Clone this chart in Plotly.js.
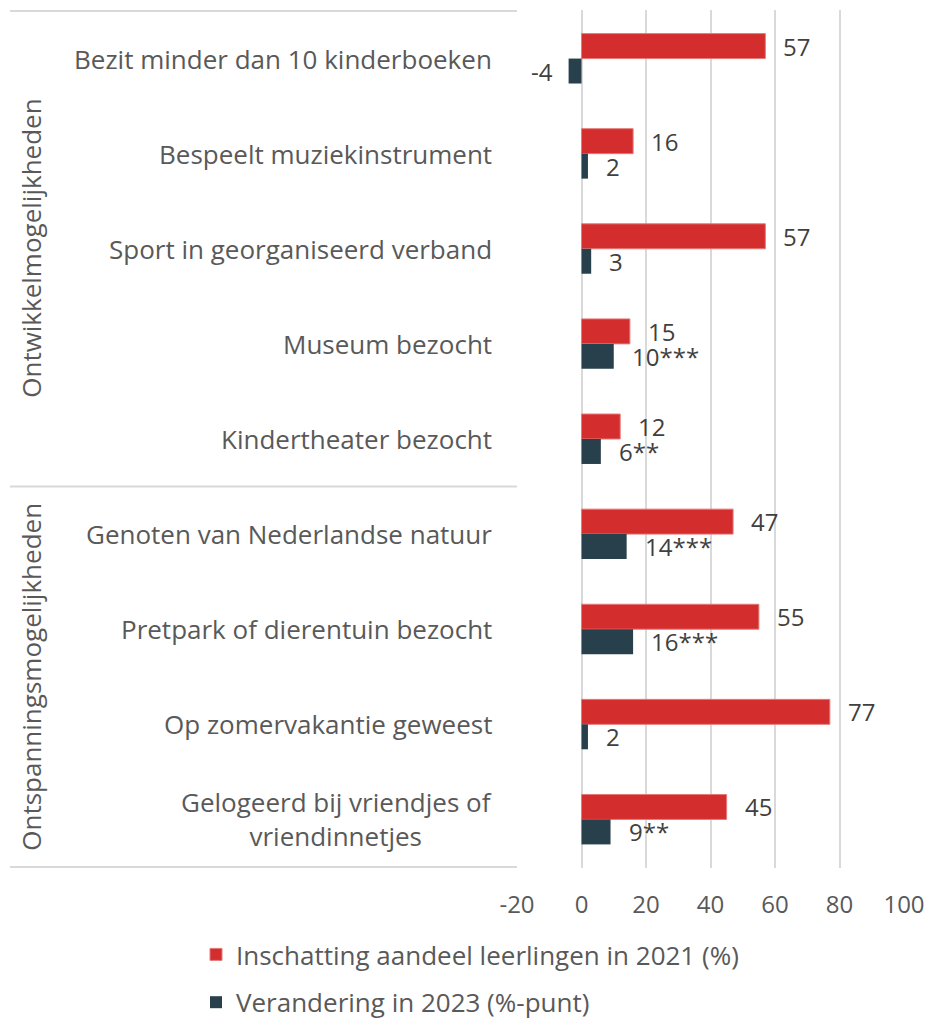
<!DOCTYPE html>
<html>
<head>
<meta charset="utf-8">
<script src="https://cdn.plot.ly/plotly-3.0.1.min.js"></script>
<style>html,body{margin:0;padding:0;background:#fff;}#chart{width:931px;height:1020px;}</style>
</head>
<body>
<div id="chart"></div>
<script>
const categories = [
  "Bezit minder dan 10 kinderboeken",
  "Bespeelt muziekinstrument",
  "Sport in georganiseerd verband",
  "Museum bezocht",
  "Kindertheater bezocht",
  "Genoten van Nederlandse natuur",
  "Pretpark of dierentuin bezocht",
  "Op zomervakantie geweest",
  "Gelogeerd bij vriendjes of<br>vriendinnetjes"
];
const groupNames = ["Ontwikkelmogelijkheden", "Ontspanningsmogelijkheden"];
const groupSizes = [5, 4];
const share2021 = [57, 16, 57, 15, 12, 47, 55, 77, 45];
const change2023 = [-4, 2, 3, 10, 6, 14, 16, 2, 9];
const change2023Stars = ["", "", "", "***", "**", "***", "***", "", "**"];
const xTicks = [-20, 0, 20, 40, 60, 80, 100];
const seriesNames = ["Inschatting aandeel leerlingen in 2021 (%)", "Verandering in 2023 (%-punt)"];

const FONT = "'Open Sans', 'Noto Sans', sans-serif";
const TXT = "#595959";
const LBL = "#404040";
const RED = "#d32d2d";
const DARK = "#27404b";
const GRID = "#d9d9d9";
const BARGAP = 0.475;
const off = (1 - BARGAP) / 4;

const traces = [
  {type: "bar", orientation: "h", name: seriesNames[0], x: share2021, y: categories,
   marker: {color: RED, line: {color: "#e57a7a", width: 1}}, legendgroup: "a", hoverinfo: "x"},
  {type: "bar", orientation: "h", name: seriesNames[1], x: change2023, y: categories,
   marker: {color: DARK, line: {width: 0}}, legendgroup: "b", hoverinfo: "x"}
];

const annotations = [];
categories.forEach((c, i) => {
  annotations.push({xref: "paper", x: 0, xanchor: "right", xshift: -23, yref: "y", y: i,
    yanchor: "middle", text: c, align: "center", showarrow: false, font: {family: FONT, size: 26, color: TXT}});
  annotations.push({xref: "x", x: share2021[i], xanchor: "left", xshift: 16, yref: "y", y: i - off,
    yanchor: "middle", text: String(share2021[i]), showarrow: false, font: {family: FONT, size: 24, color: LBL}});
  const v = change2023[i];
  annotations.push({xref: "x", x: v, xanchor: v < 0 ? "right" : "left", xshift: v < 0 ? -14 : 16, yref: "y", y: i + off,
    yanchor: "middle", text: String(v) + change2023Stars[i], showarrow: false, font: {family: FONT, size: 24, color: LBL}});
});

const shapes = [];
let start = -0.5;
shapes.push({type: "line", xref: "paper", xsizemode: "pixel", xanchor: 0, x0: -507, x1: 0,
  yref: "y", y0: start, y1: start, line: {color: GRID, width: 2}});
groupNames.forEach((g, k) => {
  const end = start + groupSizes[k];
  annotations.push({xref: "paper", x: 0, xanchor: "center", xshift: -486, yref: "y", y: (start + end) / 2,
    yanchor: "middle", text: g, textangle: -90, showarrow: false, font: {family: FONT, size: 26, color: TXT}});
  shapes.push({type: "line", xref: "paper", xsizemode: "pixel", xanchor: 0, x0: -507, x1: 0,
    yref: "y", y0: end, y1: end, line: {color: GRID, width: 2}});
  start = end;
});

const layout = {
  width: 931, height: 1020,
  margin: {l: 517, r: 27, t: 10, b: 152, autoexpand: false},
  paper_bgcolor: "#fff", plot_bgcolor: "#fff",
  barmode: "group", bargap: BARGAP, bargroupgap: 0,
  font: {family: FONT, size: 24, color: TXT},
  xaxis: {range: [-20, 100], tickvals: xTicks, ticktext: xTicks.map(String), showgrid: true, gridcolor: GRID, gridwidth: 2,
    zeroline: false, showline: false, ticks: "", ticklabelstandoff: 20, automargin: false,
    tickfont: {family: FONT, size: 24, color: TXT}, fixedrange: true},
  yaxis: {type: "category", autorange: "reversed", showticklabels: false, showgrid: false, zeroline: false, showline: false,
    automargin: false, fixedrange: true},
  showlegend: true,
  legend: {xref: "container", yref: "container", x: 196 / 931, xanchor: "left", y: 1 - 931 / 1020, yanchor: "top",
    orientation: "v", traceorder: "grouped", tracegroupgap: 11, font: {family: FONT, size: 26, color: TXT}, bgcolor: "rgba(0,0,0,0)"},
  annotations: annotations,
  shapes: shapes
};

Plotly.newPlot("chart", traces, layout, {displayModeBar: false, staticPlot: true});
</script>
</body>
</html>
